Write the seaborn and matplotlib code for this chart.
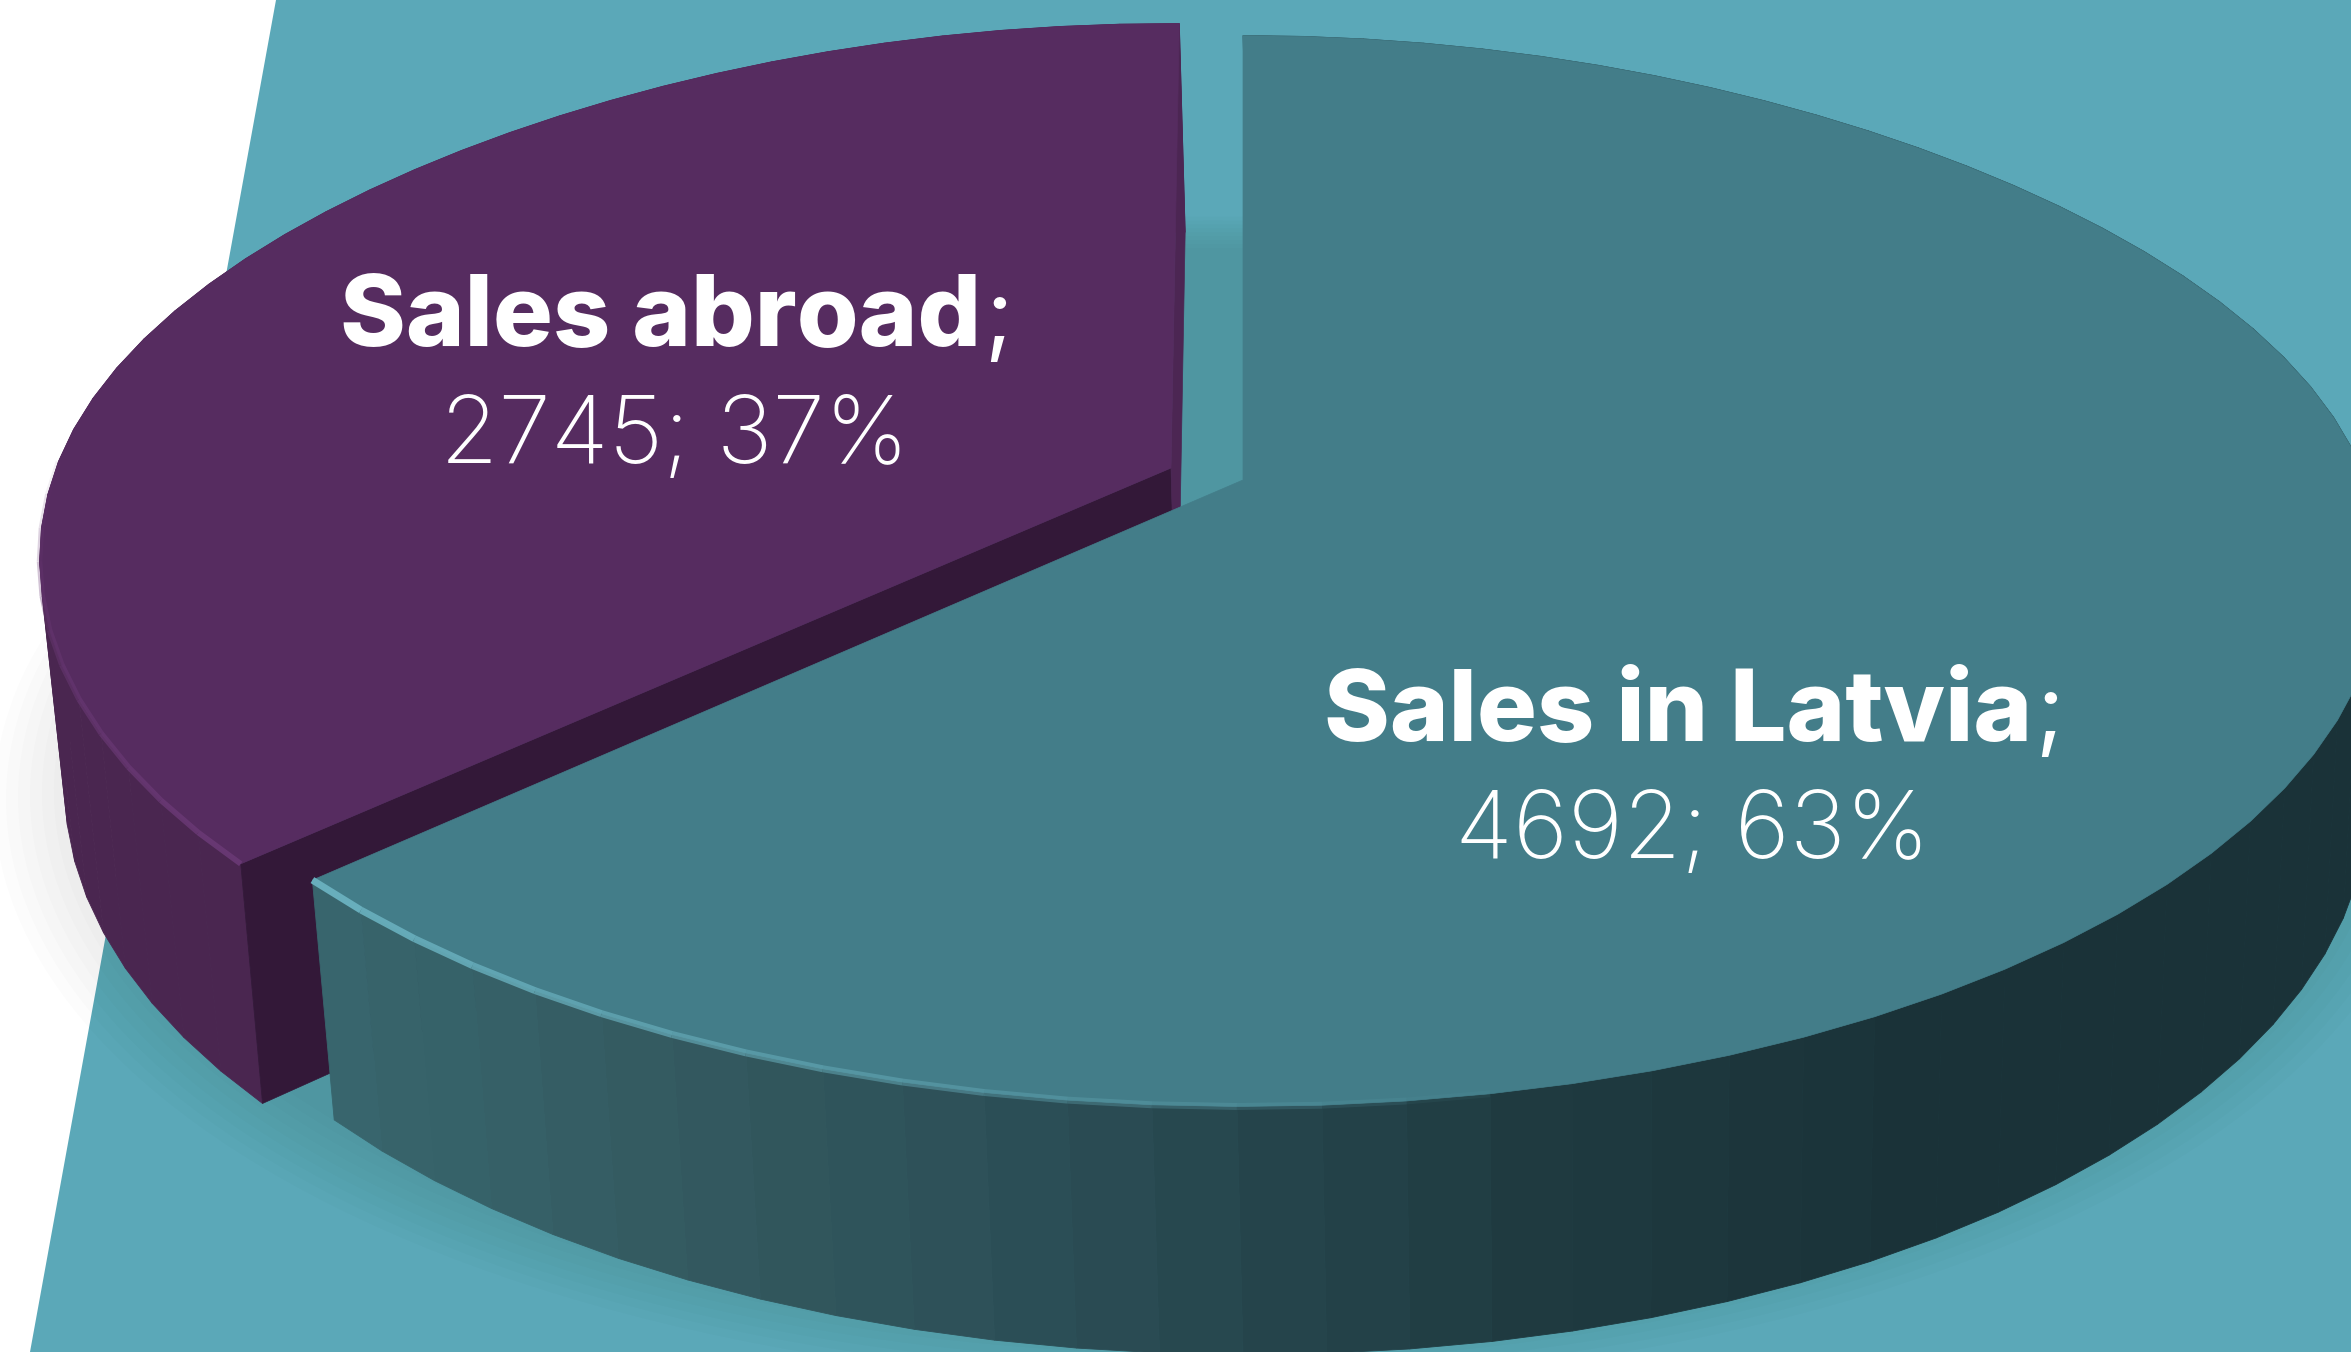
import numpy as np
import matplotlib
matplotlib.use('Agg')
import matplotlib.pyplot as plt
import seaborn as sns
from matplotlib.collections import LineCollection

sns.set_theme(style='white')
plt.rcParams['font.family'] = ['Inter', 'DejaVu Sans']

# Data
categories = ['Sales in Latvia', 'Sales abroad']
sales = [4692, 2745]
shares = [63, 37]

FLOOR = '#5ba8b8'
TEAL_TOP = '#437d89'
PURPLE_TOP = '#562c60'
PURPLE_CUT = '#331838'

# perspective of the pie, in pixels of the output
RX, RY, PERSP = 1123, 520, 0.17
W, H = 2351, 1352


def project(theta, r, cx, cy, rx=RX):
    # theta is clockwise from 12 o'clock
    # the far half of the rim is a bit flatter on the shoulders
    far = np.clip(np.cos(theta), 0, 1) > 0
    rr = r * (1 - 0.016 * far * np.sin(2 * theta) ** 2)
    x = rr * np.sin(theta)
    y = rr * np.cos(theta)
    w = 1 + PERSP * y
    return cx + rx * x / w, cy - RY * y / w


def drop(px, py, cx, cy):
    # top rim -> bottom rim of the pie wall
    return cx + (px - cx) * 0.983 + 6, cy + (py - cy) * 1.037 + 225


def draw_wall(ax, px, py, bx, by, colors):
    for i in range(len(px) - 1):
        c = colors[i]
        ax.fill([px[i], px[i + 1], bx[i + 1], bx[i]],
                [py[i], py[i + 1], by[i + 1], by[i]],
                facecolor=c, edgecolor=c, lw=0.6)


def draw_rim(ax, px, py, color, start_alpha, lw=4.5):
    # highlight along the near rim, fading out towards the end of the arrays
    pts = np.column_stack([px, py]).reshape(-1, 1, 2)
    segs = np.concatenate([pts[:-1], pts[1:]], axis=1)
    rgba = np.zeros((len(segs), 4))
    rgba[:, :3] = matplotlib.colors.to_rgb(color)
    rgba[:, 3] = np.linspace(start_alpha, 0, len(segs))
    ax.add_collection(LineCollection(segs, colors=rgba, linewidths=lw, capstyle='butt'))


def label(ax, x, y, name, value, share):
    renderer = fig.canvas.get_renderer()
    head = ax.text(x, y, name, color='white', fontsize=72, fontweight=800,
                   ha='center', va='baseline')
    semi = ax.text(x, y, ';', color='white', fontsize=68, fontweight='normal',
                   ha='left', va='baseline')
    w1 = head.get_window_extent(renderer).width
    w2 = semi.get_window_extent(renderer).width
    head.set_x(x - w2 / 2)
    semi.set_x(x - w2 / 2 + w1 / 2 + 3)
    ax.text(x, y + 117, f'{value}; {share}%', color='white', fontsize=68,
            fontweight='light', ha='center', va='baseline')


fig = plt.figure(figsize=(W / 100, H / 100), dpi=100, facecolor='white')
ax = fig.add_axes([0, 0, 1, 1])
ax.set_xlim(0, W)
ax.set_ylim(H, 0)
ax.axis('off')

# tilted floor behind the pie
ax.fill([276, W, W, 30], [0, 0, H, H], color=FLOOR, lw=0)

# soft shadow under the whole pie
ring = np.linspace(0, 2 * np.pi, 240)
for scale in np.linspace(1.05, 0.97, 9):
    sx, sy = project(ring, scale, 1207, 472)
    sx, sy = drop(sx, sy, 1207, 472)
    sx = 1207 + (sx - 1207) * 1.035
    ax.fill(sx, sy, color='black', alpha=0.013, lw=0)

# slice angles come from the values, the rim is faceted like in the chart
sweep = np.array(sales) / sum(sales) * 2 * np.pi
teal_theta = np.linspace(0, sweep[0], 64)
purple_theta = np.linspace(sweep[0], 2 * np.pi, 38) + np.radians(0.5)

# purple slice first, the teal one covers its inner corner
pcx, pcy, prx = 1171, 468, 1115
px, py = project(purple_theta, 1, pcx, pcy, prx)
bx, by = drop(px, py, pcx, pcy)
draw_wall(ax, px, py, bx, by, sns.blend_palette(['#4a2650', '#4a2650', '#4c2854'], len(px)))
abx, aby = drop(pcx, pcy, pcx, pcy)
# wall of the cut towards the viewer
ax.fill([pcx, px[0], bx[0], abx], [pcy, py[0], by[0], aby], color=PURPLE_CUT, lw=0.5)
# thin wall of the cut at 12 o'clock
ax.fill([pcx, px[-1], bx[-1], abx], [pcy, py[-1], by[-1], aby], color='#4c2653', lw=0.5)
ax.fill(np.r_[pcx, px], np.r_[pcy, py], facecolor=PURPLE_TOP, edgecolor=PURPLE_TOP, lw=0.5)
draw_rim(ax, px[:14], py[:14], '#6a3975', 0.9, lw=4)

# teal slice
tcx, tcy = 1243, 480
qx, qy = project(teal_theta, 1, tcx, tcy)
ux, uy = drop(qx, qy, tcx, tcy)
# wall colour follows the position across the picture
palette = sns.blend_palette(['#38666e', '#33595f', '#2a4c54', '#1f3b41', '#1a3238', '#1a3238'], 101)
idx = np.clip((qx - qx.min()) / (W - qx.min()) * 100, 0, 100).astype(int)
teal_colors = [palette[i] for i in idx]
draw_wall(ax, qx, qy, ux, uy, teal_colors)
ax.fill(np.r_[tcx, qx], np.r_[tcy, qy], facecolor=TEAL_TOP, edgecolor=TEAL_TOP, lw=0.5)
draw_rim(ax, qx[::-1][:18], qy[::-1][:18], '#68aebc', 1.0, lw=5)

label(ax, 675, 346, categories[1], sales[1], shares[1])
label(ax, 1692, 741, categories[0], sales[0], shares[0])

fig.savefig('out.png', dpi=100, facecolor='white')
